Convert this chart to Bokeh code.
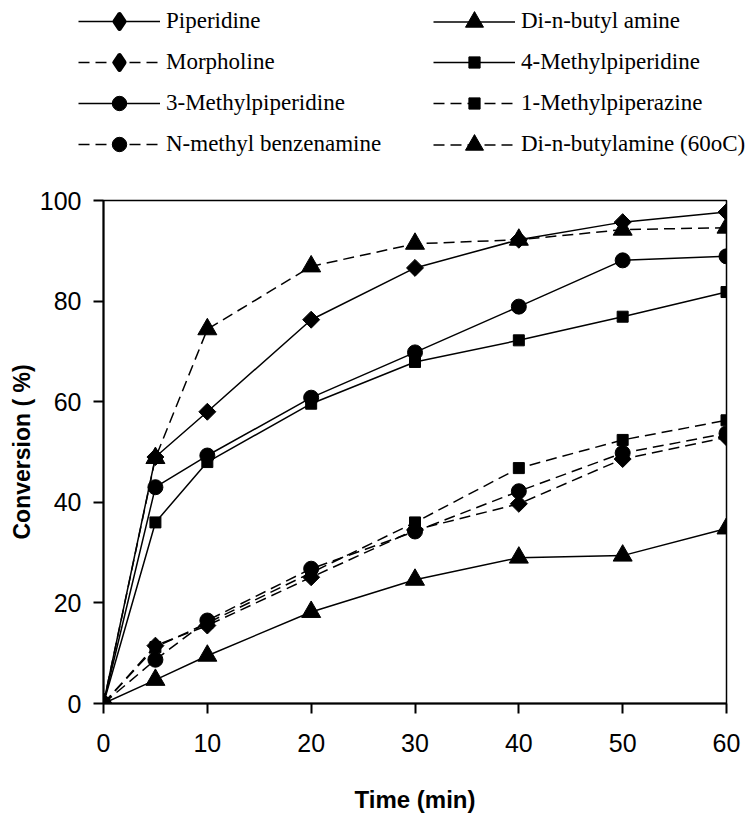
import numpy as np
from bokeh.plotting import figure
from bokeh.models import Range1d, Legend, LegendItem, FixedTicker
from bokeh.embed import file_html
from bokeh.resources import INLINE

# ---- data ----
time = [0, 5, 10, 20, 30, 40, 50, 60]
piperidine = [0, 49, 58, 76.3, 86.6, 92.2, 95.7, 97.7]
dibutylamine = [0, 4.7, 9.5, 18.2, 24.6, 29, 29.4, 34.8]
morpholine = [0, 11.5, 15.5, 25.1, 34.5, 39.7, 48.6, 52.9]
methylpiperidine4 = [0, 36, 48, 59.6, 67.9, 72.2, 76.9, 81.8]
methylpiperidine3 = [0, 43, 49.3, 60.8, 69.8, 78.9, 88.1, 88.9]
methylpiperazine1 = [0, 11.2, 16, 26, 36, 46.8, 52.4, 56.3]
nmethylbenzenamine = [0, 8.7, 16.5, 26.8, 34.2, 42.2, 49.8, 53.7]
dibutylamine60 = [0, 48.8, 74.4, 86.9, 91.4, 92.2, 94.2, 94.6]

x_ticks = [0, 10, 20, 30, 40, 50, 60]
y_ticks = [0, 20, 40, 60, 80, 100]

LEG_H = 170

p = figure(width=756, height=818 - LEG_H, output_backend="svg", toolbar_location=None,
           x_range=Range1d(0, 60), y_range=Range1d(0, 100),
           min_border_left=103, min_border_right=30, min_border_top=200 - LEG_H,
           min_border_bottom=115)
p.background_fill_color = "white"
p.border_fill_color = "white"
p.xgrid.visible = False
p.ygrid.visible = False
p.outline_line_color = "black"
p.outline_line_width = 1.5

for ax, ticks in ((p.xaxis, x_ticks), (p.yaxis, y_ticks)):
    ax.ticker = FixedTicker(ticks=ticks)
    ax.axis_line_color = "black"
    ax.axis_line_width = 2
    ax.major_tick_line_color = "black"
    ax.major_tick_line_width = 2
    ax.major_tick_in = 0
    ax.major_tick_out = 10
    ax.minor_tick_line_color = None
    ax.major_label_text_font = "Liberation Sans"
    ax.major_label_text_font_size = "25px"
    ax.major_label_text_color = "black"
    ax.axis_label_text_font = "Liberation Sans"
    ax.axis_label_text_font_style = "bold"
    ax.axis_label_text_color = "black"

p.xaxis.axis_label = "Time (min)"
p.yaxis.axis_label = "Conversion ( %)"
p.xaxis.axis_label_text_font_size = "24px"
p.yaxis.axis_label_text_font_size = "23px"
p.xaxis.major_label_standoff = 20
p.yaxis.major_label_standoff = 12
p.xaxis.axis_label_standoff = 31
p.yaxis.axis_label_standoff = 2

SOLID = "solid"
DASH = "11 6"
series = [
    ("Piperidine", piperidine, SOLID, "diamond"),
    ("Di-n-butyl amine", dibutylamine, SOLID, "triangle"),
    ("Morpholine", morpholine, DASH, "diamond"),
    ("4-Methylpiperidine", methylpiperidine4, SOLID, "square"),
    ("3-Methylpiperidine", methylpiperidine3, SOLID, "circle"),
    ("1-Methylpiperazine", methylpiperazine1, DASH, "square"),
    ("N-methyl benzenamine", nmethylbenzenamine, DASH, "circle"),
    ("Di-n-butylamine (60oC)", dibutylamine60, DASH, "triangle"),
]

MARKERS = {
    "diamond": dict(marker="square", angle=np.pi / 4, size=12),
    "triangle": dict(marker="triangle", size=19),
    "circle": dict(marker="circle", size=15),
    "square": dict(marker="square", size=11),
}
# legend marker: (bokeh marker, legend glyph box height -> marker size = 0.4*box, outline width)
LEG_MARK = {
    "diamond": ("diamond", 34, 5),
    "triangle": ("triangle", 45, 1),
    "circle": ("circle", 36, 1),
    "square": ("square", 28, 1),
}

# legend-only figure on top (its data range is far from the data, so only the legend shows)
lf = figure(width=756, height=LEG_H, output_backend="svg", toolbar_location=None,
            x_range=Range1d(1000, 1001), y_range=Range1d(1000, 1001),
            x_axis_location=None, y_axis_location=None,
            min_border_left=0, min_border_right=0,
            min_border_top=0, min_border_bottom=0)
lf.outline_line_color = None
lf.xgrid.visible = False
lf.ygrid.visible = False
lf.background_fill_color = "white"
lf.border_fill_color = "white"

col_x = [78, 433]
row_y = [21, 62, 103, 144]

for i, (name, ys, dash, mk) in enumerate(series):
    p.line(time, ys, line_color="black", line_width=1.5, line_dash=dash)
    p.scatter(time, ys, fill_color="black", line_color="black", **MARKERS[mk])

    lmk, gh, lw = LEG_MARK[mk]
    ln = lf.line(time, ys, line_color="black", line_width=1.5, line_dash=dash)
    sc = lf.scatter(time, ys, marker=lmk, fill_color="black", line_color="black",
                    line_width=lw, line_join="round")
    row, col = i // 2, i % 2
    lg = Legend(items=[LegendItem(label=name, renderers=[ln, sc])],
                location=(col_x[col], LEG_H - row_y[row] - gh / 2),
                orientation="vertical")
    lg.border_line_color = None
    lg.background_fill_alpha = 0
    lg.padding = 0
    lg.margin = 0
    lg.glyph_width = 82
    lg.glyph_height = gh
    lg.label_height = 20
    lg.spacing = 0
    lg.label_standoff = 6
    lg.label_text_font = "Liberation Serif"
    lg.label_text_font_size = "23px"
    lg.label_text_color = "black"
    lf.add_layout(lg, "center")

open("out.html", "w").write(file_html([lf, p], INLINE))
